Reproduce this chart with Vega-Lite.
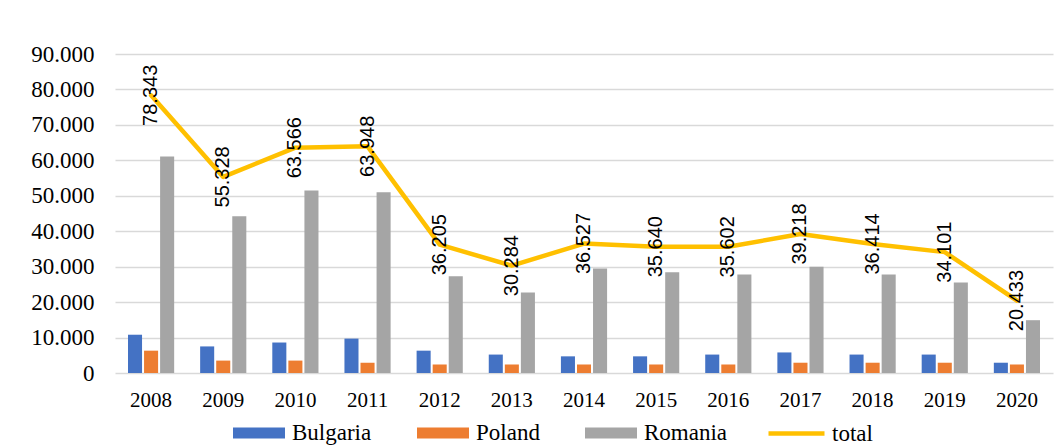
{
  "$schema": "https://vega.github.io/schema/vega-lite/v6.json",
  "autosize": {"type": "none"},
  "padding": {"left": 115, "top": 54, "right": 5, "bottom": 73},
  "width": 938,
  "height": 319,
  "background": "white",
  "config": {
    "locale": {"number": {"decimal": ",", "thousands": ".", "grouping": [3], "currency": ["", " €"]}},
    "view": {"stroke": null},
    "axis": {"labelFont": "Liberation Serif", "labelColor": "#000000", "title": null},
    "axisY": {"labelFont": "Liberation Serif", "labelFontSize": 23},
    "legend": {"labelFont": "Liberation Serif", "labelColor": "#000000"}
  },
  "datasets": {
    "bars": [
      {"year": "2008", "country": "Bulgaria", "value": 10800},
      {"year": "2008", "country": "Poland", "value": 6300},
      {"year": "2008", "country": "Romania", "value": 61100},
      {"year": "2009", "country": "Bulgaria", "value": 7500},
      {"year": "2009", "country": "Poland", "value": 3500},
      {"year": "2009", "country": "Romania", "value": 44200},
      {"year": "2010", "country": "Bulgaria", "value": 8600},
      {"year": "2010", "country": "Poland", "value": 3500},
      {"year": "2010", "country": "Romania", "value": 51500},
      {"year": "2011", "country": "Bulgaria", "value": 9700},
      {"year": "2011", "country": "Poland", "value": 2900},
      {"year": "2011", "country": "Romania", "value": 51000},
      {"year": "2012", "country": "Bulgaria", "value": 6300},
      {"year": "2012", "country": "Poland", "value": 2400},
      {"year": "2012", "country": "Romania", "value": 27300},
      {"year": "2013", "country": "Bulgaria", "value": 5200},
      {"year": "2013", "country": "Poland", "value": 2400},
      {"year": "2013", "country": "Romania", "value": 22700},
      {"year": "2014", "country": "Bulgaria", "value": 4700},
      {"year": "2014", "country": "Poland", "value": 2400},
      {"year": "2014", "country": "Romania", "value": 29500},
      {"year": "2015", "country": "Bulgaria", "value": 4700},
      {"year": "2015", "country": "Poland", "value": 2400},
      {"year": "2015", "country": "Romania", "value": 28400},
      {"year": "2016", "country": "Bulgaria", "value": 5200},
      {"year": "2016", "country": "Poland", "value": 2400},
      {"year": "2016", "country": "Romania", "value": 27800},
      {"year": "2017", "country": "Bulgaria", "value": 5800},
      {"year": "2017", "country": "Poland", "value": 2900},
      {"year": "2017", "country": "Romania", "value": 30000},
      {"year": "2018", "country": "Bulgaria", "value": 5200},
      {"year": "2018", "country": "Poland", "value": 2900},
      {"year": "2018", "country": "Romania", "value": 27800},
      {"year": "2019", "country": "Bulgaria", "value": 5200},
      {"year": "2019", "country": "Poland", "value": 2900},
      {"year": "2019", "country": "Romania", "value": 25500},
      {"year": "2020", "country": "Bulgaria", "value": 2900},
      {"year": "2020", "country": "Poland", "value": 2400},
      {"year": "2020", "country": "Romania", "value": 14900}
    ],
    "totals": [
      {"year": "2008", "value": 78343},
      {"year": "2009", "value": 55328},
      {"year": "2010", "value": 63566},
      {"year": "2011", "value": 63948},
      {"year": "2012", "value": 36205},
      {"year": "2013", "value": 30284},
      {"year": "2014", "value": 36527},
      {"year": "2015", "value": 35640},
      {"year": "2016", "value": 35602},
      {"year": "2017", "value": 39218},
      {"year": "2018", "value": 36414},
      {"year": "2019", "value": 34101},
      {"year": "2020", "value": 20433}
    ]
  },
  "encoding": {
    "x": {
      "field": "year", "type": "nominal",
      "scale": {"paddingInner": 0.36, "paddingOuter": 0.18},
      "axis": {"labelAngle": 0, "labelFont": "Liberation Serif", "labelFontSize": 21, "labelColor": "#000000", "labelPadding": 16, "ticks": false, "domain": false, "grid": false}
    },
    "y": {
      "field": "value", "type": "quantitative",
      "scale": {"domain": [0, 90000], "nice": false},
      "axis": {"values": [0, 10000, 20000, 30000, 40000, 50000, 60000, 70000, 80000, 90000], "format": ",d", "labelFont": "Liberation Serif", "labelFontSize": 23, "labelColor": "#000000", "labelPadding": 21, "ticks": false, "domain": false, "grid": true, "gridColor": "#d9d9d9", "gridWidth": 1.5}
    }
  },
  "layer": [
    {
      "data": {"name": "bars"},
      "mark": {"type": "bar"},
      "encoding": {
        "xOffset": {"field": "country", "type": "nominal", "scale": {"paddingInner": 0.125, "paddingOuter": 0}},
        "color": {
          "field": "country", "type": "nominal",
          "scale": {"domain": ["Bulgaria", "Poland", "Romania"], "range": ["#4472C4", "#ED7D31", "#A5A5A5"]},
          "legend": {
            "orient": "none", "legendX": 118, "legendY": 353, "direction": "horizontal", "title": null,
            "symbolType": "M-1,-0.21H1V0.21H-1Z", "symbolSize": 2704, "symbolStrokeWidth": 0,
            "labelFont": "Liberation Serif", "labelFontSize": 23, "labelColor": "#000000", "labelOffset": 7,
            "columnPadding": 45
          }
        }
      }
    },
    {
      "data": {"name": "totals"},
      "mark": {"type": "line", "strokeWidth": 4.5, "strokeJoin": "round", "strokeCap": "round"},
      "encoding": {
        "stroke": {
          "datum": "total",
          "scale": {"domain": ["total"], "range": ["#FFC000"]},
          "legend": {
            "orient": "none", "legendX": 651, "legendY": 349, "title": null,
            "symbolType": "stroke", "symbolSize": 3136, "symbolStrokeWidth": 4.5,
            "labelFont": "Liberation Serif", "labelFontSize": 23, "labelColor": "#000000", "labelOffset": 5
          }
        }
      }
    },
    {
      "data": {"name": "totals"},
      "mark": {"type": "text", "angle": 270, "align": "center", "baseline": "middle", "font": "Liberation Sans", "fontSize": 20, "color": "#000000"},
      "encoding": {
        "text": {"field": "value", "type": "quantitative", "format": ",d"}
      }
    }
  ]
}
